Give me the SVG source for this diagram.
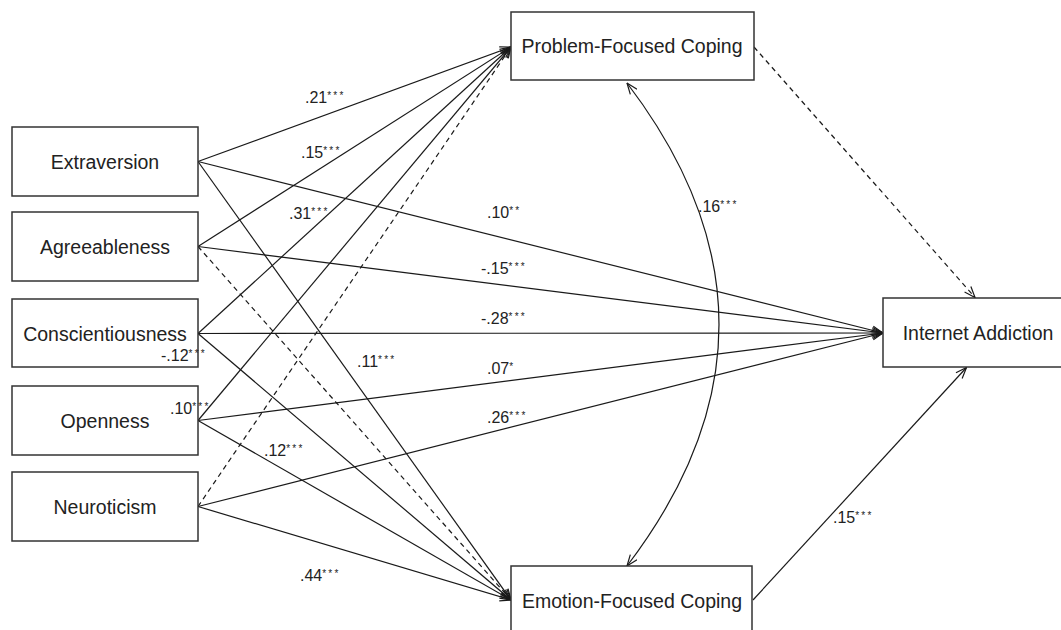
<svg xmlns="http://www.w3.org/2000/svg" width="1061" height="630" viewBox="0 0 1061 630">
<style>
.box{fill:#fff;stroke:#333;stroke-width:1.5}
.nt{font-family:"Liberation Sans",Arial,sans-serif;font-size:19.5px;fill:#222;text-anchor:middle}
.ln{fill:none;stroke:#1a1a1a;stroke-width:1.2}
.dash{stroke-dasharray:5,4}
.lb{font-family:"Liberation Sans",Arial,sans-serif;font-size:16px;fill:#222}
.sup{font-size:10px;letter-spacing:2.2px}
</style>
<defs>
<marker id="ah" viewBox="0 0 12 10" refX="11.5" refY="5" markerWidth="12" markerHeight="10" markerUnits="userSpaceOnUse" orient="auto-start-reverse">
<path d="M0.5,0.8 L11.5,5 L0.5,9.2" fill="none" stroke="#1a1a1a" stroke-width="1.2"/>
</marker>
</defs>
<rect width="1061" height="630" fill="#fff"/>
<g id="connectors">
<line class="ln" x1="198" y1="161.5" x2="511" y2="47" marker-end="url(#ah)"/>
<line class="ln" x1="198" y1="246.5" x2="511" y2="47" marker-end="url(#ah)"/>
<line class="ln" x1="198" y1="333.5" x2="511" y2="47" marker-end="url(#ah)"/>
<line class="ln" x1="198" y1="420.5" x2="511" y2="47" marker-end="url(#ah)"/>
<line class="ln dash" x1="198" y1="506.5" x2="511" y2="47" marker-end="url(#ah)"/>
<line class="ln" x1="198" y1="161.5" x2="883" y2="333" marker-end="url(#ah)"/>
<line class="ln" x1="198" y1="246.5" x2="883" y2="333" marker-end="url(#ah)"/>
<line class="ln" x1="198" y1="333.5" x2="883" y2="333" marker-end="url(#ah)"/>
<line class="ln" x1="198" y1="420.5" x2="883" y2="333" marker-end="url(#ah)"/>
<line class="ln" x1="198" y1="506.5" x2="883" y2="333" marker-end="url(#ah)"/>
<line class="ln" x1="198" y1="161.5" x2="511" y2="600" marker-end="url(#ah)"/>
<line class="ln dash" x1="198" y1="246.5" x2="511" y2="600" marker-end="url(#ah)"/>
<line class="ln" x1="198" y1="333.5" x2="511" y2="600" marker-end="url(#ah)"/>
<line class="ln" x1="198" y1="420.5" x2="511" y2="600" marker-end="url(#ah)"/>
<line class="ln" x1="198" y1="506.5" x2="511" y2="600" marker-end="url(#ah)"/>
<line class="ln dash" x1="754" y1="47" x2="975" y2="297.5" marker-end="url(#ah)"/>
<line class="ln" x1="753" y1="600" x2="966.5" y2="367.5" marker-end="url(#ah)"/>
<path class="ln" d="M627,83 Q811,324.5 627,566" marker-start="url(#ah)" marker-end="url(#ah)"/>
</g>
<g id="extraversion"><rect class="box" x="12" y="127" width="186" height="69"/><text class="nt" x="105" y="168.5">Extraversion</text></g>
<g id="agreeableness"><rect class="box" x="12" y="212" width="186" height="69"/><text class="nt" x="105" y="253.5">Agreeableness</text></g>
<g id="conscientiousness"><rect class="box" x="12" y="299" width="186" height="68"/><text class="nt" x="105" y="340.5">Conscientiousness</text></g>
<g id="openness"><rect class="box" x="12" y="386" width="186" height="69"/><text class="nt" x="105" y="427.5">Openness</text></g>
<g id="neuroticism"><rect class="box" x="12" y="472" width="186" height="69"/><text class="nt" x="105" y="513.5">Neuroticism</text></g>
<g id="problem-focused"><rect class="box" x="511" y="12" width="243" height="68"/><text class="nt" x="632" y="53">Problem-Focused Coping</text></g>
<g id="internet-addiction"><rect class="box" x="883" y="298" width="190" height="69"/><text class="nt" x="978" y="340">Internet Addiction</text></g>
<g id="emotion-focused"><rect class="box" x="511" y="566" width="241" height="74"/><text class="nt" x="632" y="608">Emotion-Focused Coping</text></g>
<g id="labels">
<text class="lb" x="305" y="103">.21<tspan class="sup" dy="-4">***</tspan></text>
<text class="lb" x="301" y="158">.15<tspan class="sup" dy="-4">***</tspan></text>
<text class="lb" x="289" y="219">.31<tspan class="sup" dy="-4">***</tspan></text>
<text class="lb" x="487" y="218">.10<tspan class="sup" dy="-4">**</tspan></text>
<text class="lb" x="481" y="274">-.15<tspan class="sup" dy="-4">***</tspan></text>
<text class="lb" x="481" y="324">-.28<tspan class="sup" dy="-4">***</tspan></text>
<text class="lb" x="357" y="367">.11<tspan class="sup" dy="-4">***</tspan></text>
<text class="lb" x="487" y="374">.07<tspan class="sup" dy="-4">*</tspan></text>
<text class="lb" x="487" y="423">.26<tspan class="sup" dy="-4">***</tspan></text>
<text class="lb" x="161" y="361">-.12<tspan class="sup" dy="-4">***</tspan></text>
<text class="lb" x="170" y="414">.10<tspan class="sup" dy="-4">***</tspan></text>
<text class="lb" x="264" y="456">.12<tspan class="sup" dy="-4">***</tspan></text>
<text class="lb" x="300" y="581">.44<tspan class="sup" dy="-4">***</tspan></text>
<text class="lb" x="698" y="212">.16<tspan class="sup" dy="-4">***</tspan></text>
<text class="lb" x="833" y="523">.15<tspan class="sup" dy="-4">***</tspan></text>
</g>
</svg>
